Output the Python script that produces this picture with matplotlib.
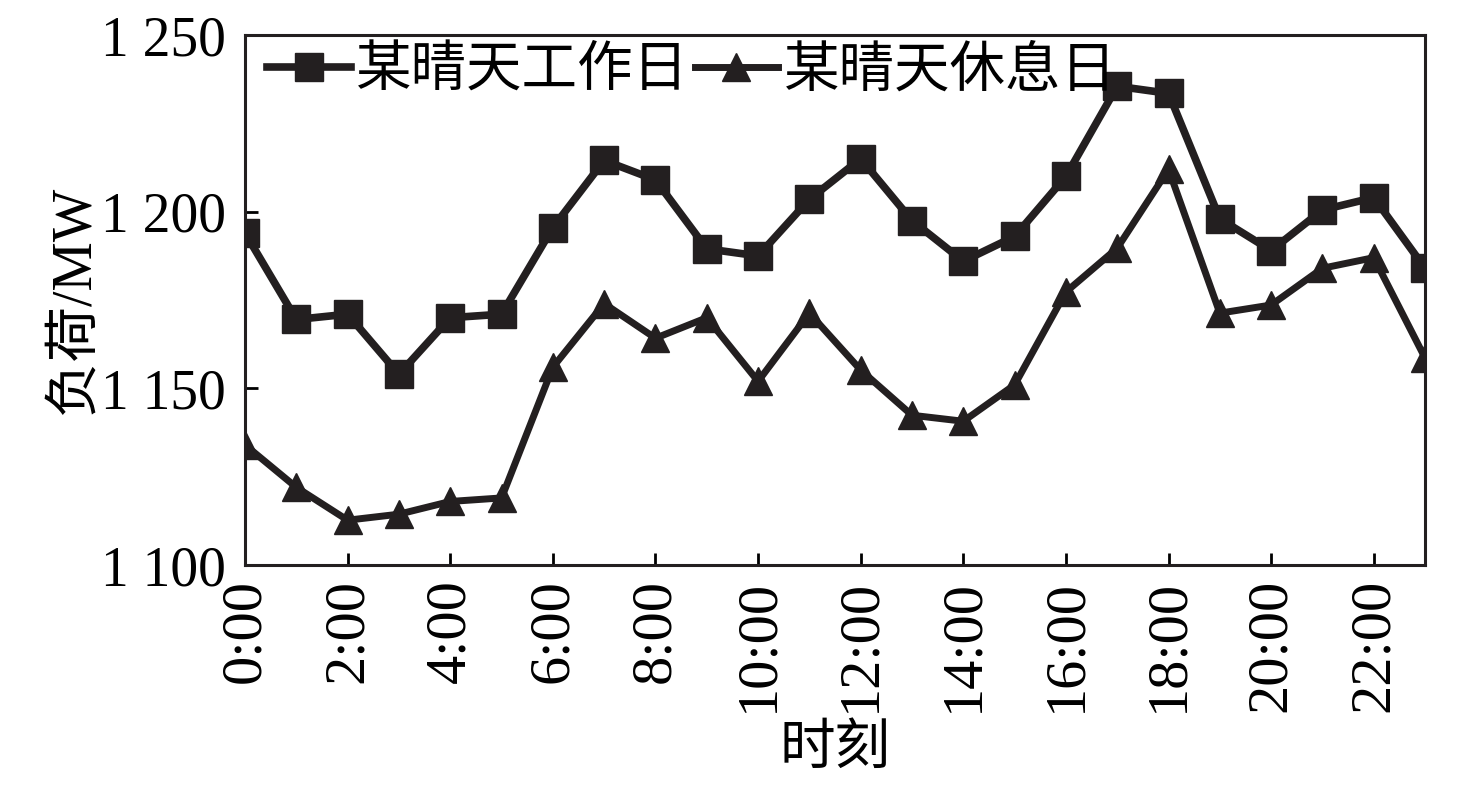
import numpy as np
import matplotlib.pyplot as plt

plt.rcParams['font.family'] = ['Liberation Serif', 'Noto Sans CJK SC', 'DejaVu Sans']

hours = np.arange(0, 24)
workday = [1194, 1169.5, 1171, 1154, 1170, 1171, 1195.5, 1214.5, 1209, 1189.5, 1187.5, 1203.5,
           1215, 1197.5, 1186, 1193, 1210, 1235.5, 1233.5, 1198, 1189, 1200.5, 1204, 1184]
restday = [1134, 1122, 1112.7, 1114.4, 1118, 1119, 1156, 1174, 1164.2, 1170, 1152, 1171.3,
           1155.2, 1142.4, 1140.7, 1151, 1177.3, 1189.7, 1212, 1171.3, 1173.6, 1184, 1187, 1158.6]
xticks = np.arange(0, 24, 2)
xlabels = ['%d:00' % h for h in xticks]
yticks = [1100, 1150, 1200, 1250]
ylabels = ['1 100', '1 150', '1 200', '1 250']

fig = plt.figure(figsize=(14.76, 7.87), dpi=100)
ax = fig.add_axes([0.166, 0.282, 0.7995, 0.6735])

ax.plot(hours, workday, color='#231f20', lw=5.5, marker='s', ms=20, label='某晴天工作日')
ax.plot(hours, restday, color='#231f20', lw=5, marker='^', ms=20, label='某晴天休息日')

ax.set_xlim(0, 23)
ax.set_ylim(1100, 1250)
ax.set_xticks(xticks)
ax.set_xticklabels(xlabels, rotation=90, fontsize=42)
ax.set_yticks(yticks)
ax.set_yticklabels(ylabels, fontsize=40)
ax.tick_params(direction='in', length=9, width=2)
ax.tick_params(axis='x', pad=10)
ax.tick_params(axis='y', pad=14)
for s in ax.spines.values():
    s.set_linewidth(2.2)
    s.set_color('#231f20')

ax.set_xlabel('时刻', fontsize=40)
ax.xaxis.set_label_coords(0.5, -0.30)
ax.set_ylabel('负荷/MW', fontsize=40, labelpad=0)

ax.legend(loc='upper left', ncol=2, frameon=False, fontsize=40, handlelength=1.5,
          handletextpad=0.1, columnspacing=0.1, borderaxespad=0.0,
          bbox_to_anchor=(0.0, 1.02))

fig.savefig('out.png', dpi=100)
